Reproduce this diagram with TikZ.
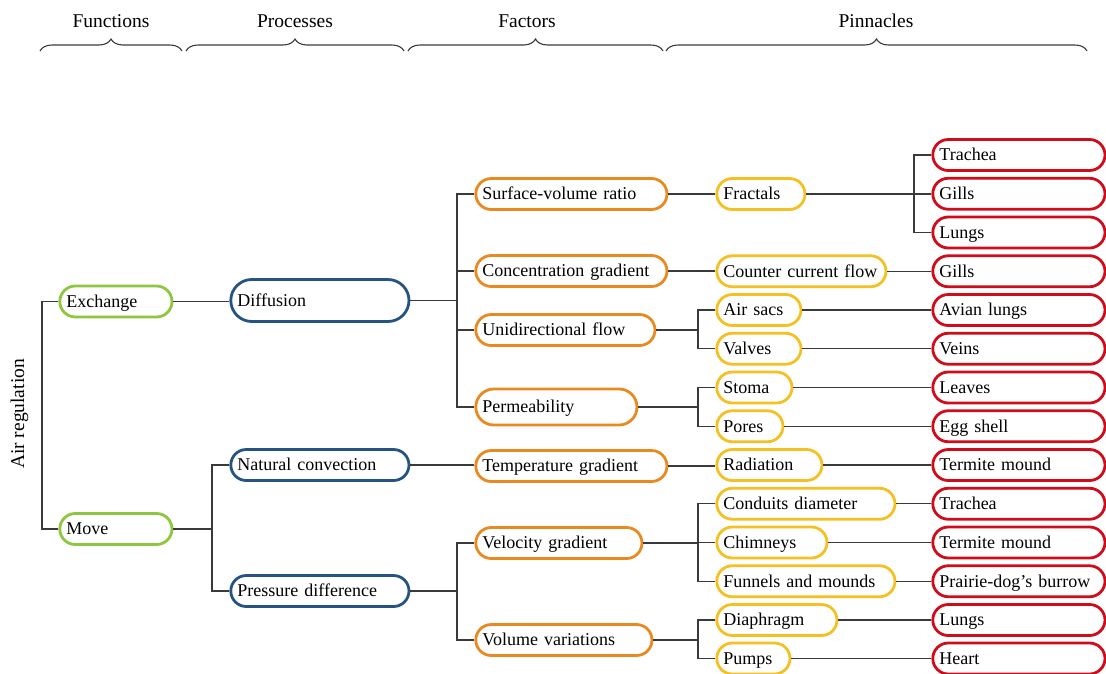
\documentclass[tikz,border=0pt]{standalone}
\usepackage{fontspec}
\setmainfont{Liberation Serif}
\usetikzlibrary{decorations.pathreplacing}
\definecolor{fncol}{HTML}{8DC63F}
\definecolor{prcol}{HTML}{265482}
\definecolor{facol}{HTML}{E98A21}
\definecolor{mecol}{HTML}{F5C022}
\definecolor{picol}{HTML}{D00C1B}
\definecolor{linkcol}{HTML}{3A3A3A}
\begin{document}
\begin{tikzpicture}[x=1pt,y=-1pt,
  every node/.style={font=\fontsize{18}{21}\selectfont, text=black},
  pill/.style={draw=#1, line width=2.8pt, rectangle, rounded corners=15.5pt,
    minimum height=31pt, inner xsep=6.6pt, inner ysep=0pt, align=left,
    anchor=west, text height=12pt, text depth=0.5pt, fill=white},
  span/.code 2 args={\pgfmathsetmacro\pillw{#2-#1-2.8-13.2}\tikzset{text width=\pillw pt}},
  fn/.style={pill=fncol},
  pr/.style={pill=prcol},
  fa/.style={pill=facol},
  me/.style={pill=mecol},
  pi/.style={pill=picol, span={930}{1105}},
  link/.style={draw=linkcol, line width=1.2pt},
  head/.style={font=\fontsize{19.5}{22}\selectfont, text height=13pt, text depth=4pt, inner sep=0pt},
  bracket/.style={draw=linkcol, line width=1.1pt, decorate, decoration={brace, amplitude=12pt}}
]
\useasboundingbox (0,0) rectangle (1106,673);

% column headings
\node[head] (hfn) at (111,23) {Functions};
\node[head] (hpr) at (295,23) {Processes};
\node[head] (hfa) at (527,23) {Factors};
\node[head] (hpi) at (876,23) {Pinnacles};
\draw[bracket] (40,51) -- (182,51);
\draw[bracket] (186,51) -- (404,51);
\draw[bracket] (408,51) -- (663,51);
\draw[bracket] (666,51) -- (1087,51);

% root label
\node[head, rotate=90] (root) at (19.5,414) {Air regulation};

% functions
\node[fn, span={57}{172}] (ex) at (58.4,301.5) {Exchange};
\node[fn, span={57}{172}] (mv) at (58.4,529) {Move};

% processes
\node[pr, span={228}{409}, minimum height=42pt, rounded corners=21pt] (diff) at (229.4,300.5) {Diffusion};
\node[pr, span={228}{409}] (nc) at (229.4,465) {Natural convection};
\node[pr, span={228}{409}] (pd) at (229.4,591) {Pressure difference};

% factors
\node[fa, span={473}{667}] (svr) at (474.4,194) {Surface-volume ratio};
\node[fa, span={473}{667}] (cgr) at (474.4,271) {Concentration gradient};
\node[fa, span={473}{655}] (uni) at (474.4,330) {Unidirectional flow};
\node[fa, span={473}{637}, minimum height=36pt, rounded corners=18pt] (perm) at (474.4,407) {Permeability};
\node[fa, span={473}{667}] (tg) at (474.4,466) {Temperature gradient};
\node[fa, span={473}{642}] (vg) at (474.4,543) {Velocity gradient};
\node[fa, span={473}{652}] (vv) at (474.4,640) {Volume variations};

% mechanisms
\node[me, span={714}{805}] (frac) at (715.4,194) {Fractals};
\node[me, span={714}{886}] (ccf) at (715.4,271.25) {Counter current flow};
\node[me, span={714}{801}] (as) at (715.4,310) {Air sacs};
\node[me, span={714}{801}] (val) at (715.4,348.75) {Valves};
\node[me, span={714}{792}] (sto) at (715.4,387.5) {Stoma};
\node[me, span={714}{783}] (por) at (715.4,426.25) {Pores};
\node[me, span={714}{822}] (rad) at (715.4,465) {Radiation};
\node[me, span={714}{895}] (cd) at (715.4,503.75) {Conduits diameter};
\node[me, span={714}{827}] (chi) at (715.4,542.5) {Chimneys};
\node[me, span={714}{895}] (fun) at (715.4,581.25) {Funnels and mounds};
\node[me, span={714}{837}] (dia) at (715.4,620) {Diaphragm};
\node[me, span={714}{790}] (pum) at (715.4,658.5) {Pumps};

% pinnacles
\node[pi] (tr1) at (931.4,155) {Trachea};
\node[pi] (gi1) at (931.4,193.75) {Gills};
\node[pi] (lu1) at (931.4,232.5) {Lungs};
\node[pi] (gi2) at (931.4,271.25) {Gills};
\node[pi] (avl) at (931.4,310) {Avian lungs};
\node[pi] (vei) at (931.4,348.75) {Veins};
\node[pi] (lea) at (931.4,387.5) {Leaves};
\node[pi] (egg) at (931.4,426.25) {Egg shell};
\node[pi] (tm1) at (931.4,465) {Termite mound};
\node[pi] (tr2) at (931.4,503.75) {Trachea};
\node[pi] (tm2) at (931.4,542.5) {Termite mound};
\node[pi] (pdb) at (931.4,581.25) {Prairie-dog’s burrow};
\node[pi] (lu2) at (931.4,620) {Lungs};
\node[pi] (hea) at (931.4,658.5) {Heart};

% junction points of the tree
\coordinate (jar) at (42,415);
\coordinate (jmv) at (212,529);
\coordinate (jdf) at (457,300.5);
\coordinate (jpd) at (457,591);
\coordinate (jun) at (698,330);
\coordinate (jpm) at (698,407);
\coordinate (jvg) at (698,543);
\coordinate (jvv) at (698,640);
\coordinate (jfr) at (914,194);

% connectors
\draw[link] (ex.west) -- (ex.west -| jar) -- (mv.west -| jar) -- (mv.west);
\draw[link] (ex.east) -- (ex.east -| diff.west);
\draw[link] (mv.east) -- (jmv) |- (nc.west);
\draw[link] (jmv) |- (pd.west);

\draw[link] (diff.east) -- (jdf) |- (svr.west);
\draw[link] (jdf) |- (cgr.west);
\draw[link] (jdf) |- (uni.west);
\draw[link] (jdf) |- (perm.west);
\draw[link] (nc.east) -- (nc.east -| tg.west);
\draw[link] (pd.east) -- (jpd) |- (vg.west);
\draw[link] (jpd) |- (vv.west);

\draw[link] (svr.east) -- (svr.east -| frac.west);
\draw[link] (cgr.east) -- (cgr.east -| ccf.west);
\draw[link] (uni.east) -- (jun) |- (as.west);
\draw[link] (jun) |- (val.west);
\draw[link] (perm.east) -- (jpm) |- (sto.west);
\draw[link] (jpm) |- (por.west);
\draw[link] (tg.east) -- (tg.east -| rad.west);
\draw[link] (vg.east) -- (jvg) |- (cd.west);
\draw[link] (jvg) |- (chi.west);
\draw[link] (jvg) |- (fun.west);
\draw[link] (vv.east) -- (jvv) |- (dia.west);
\draw[link] (jvv) |- (pum.west);

\draw[link] (frac.east) -- (frac.east -| gi1.west);
\draw[link] (jfr) |- (tr1.west);
\draw[link] (jfr) |- (lu1.west);
\draw[link] (ccf.east) -- (ccf.east -| gi2.west);
\draw[link] (as.east) -- (as.east -| avl.west);
\draw[link] (val.east) -- (val.east -| vei.west);
\draw[link] (sto.east) -- (sto.east -| lea.west);
\draw[link] (por.east) -- (por.east -| egg.west);
\draw[link] (rad.east) -- (rad.east -| tm1.west);
\draw[link] (cd.east) -- (cd.east -| tr2.west);
\draw[link] (chi.east) -- (chi.east -| tm2.west);
\draw[link] (fun.east) -- (fun.east -| pdb.west);
\draw[link] (dia.east) -- (dia.east -| lu2.west);
\draw[link] (pum.east) -- (pum.east -| hea.west);
\end{tikzpicture}
\end{document}
